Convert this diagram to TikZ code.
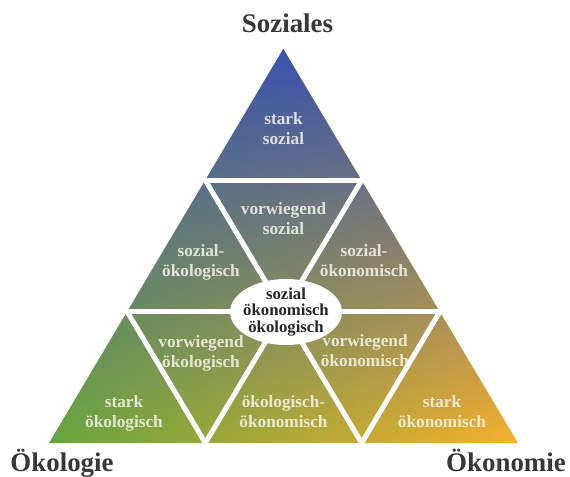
\documentclass[tikz,border=0pt]{standalone}
\usepackage{fontspec}
\setmainfont{Liberation Serif}
\usetikzlibrary{shapes.geometric,fadings}
\definecolor{cgreen}{RGB}{104,166,62}
\definecolor{corange}{RGB}{248,176,44}
\definecolor{cblue}{RGB}{58,82,174}
\definecolor{ctitle}{RGB}{55,55,55}
\definecolor{ctext}{RGB}{245,245,235}
\tikzfading[name=fadedown, top color=transparent!0, middle color=transparent!37, bottom color=transparent!100]
\tikzset{
  lbl/.style={text=ctext, text opacity=0.85, font=\bfseries\fontsize{17.3}{20}\selectfont, align=center, inner sep=0pt},
  ttl/.style={text=ctitle, font=\bfseries\fontsize{27}{30}\selectfont, inner sep=0pt, anchor=base},
  sepline/.style={draw=white, line width=5bp},
  ctrell/.style={ellipse, fill=white, minimum width=112bp, minimum height=66bp, inner sep=0pt},
  ctrtxt/.style={text=black!85, font=\bfseries\fontsize{16.8}{16.5}\selectfont, align=center, inner sep=0pt}
}
\begin{document}
\begin{tikzpicture}[x=1bp,y=-1bp]
\useasboundingbox (0,0) rectangle (570,477);
\fill[white] (0,0) rectangle (570,477);
% grid points
\coordinate (A) at (283.5,49);
\coordinate (B) at (49,443);
\coordinate (C) at (518,443);
\coordinate (P1) at (205.33,180.33);
\coordinate (Q1) at (361.67,180.33);
\coordinate (P2) at (127.17,311.67);
\coordinate (M) at (283.5,311.67);
\coordinate (Q2) at (439.83,311.67);
\coordinate (B1) at (205.33,443);
\coordinate (B2) at (361.67,443);
% coloured triangle
\shade[left color=cgreen, right color=corange] (A) -- (B) -- (C) -- cycle;
\fill[cblue, path fading=fadedown] (A) -- (B) -- (C) -- cycle;
% white separators
\draw[sepline] (P1) -- (Q1);
\draw[sepline] (P2) -- (Q2);
\draw[sepline] (B1) -- (Q1);
\draw[sepline] (B2) -- (P1);
\draw[sepline] (B1) -- (P2);
\draw[sepline] (B2) -- (Q2);
% labels
\node[lbl] (ss) at (283.5,128.3) {stark\\sozial};
\node[lbl] (vs) at (283.5,218.3) {vorwiegend\\sozial};
\node[lbl] (sok) at (201,262.1) {sozial-\\ökologisch};
\node[lbl] (son) at (364,260.3) {sozial-\\ökonomisch};
\node[lbl] (vok) at (201,353.1) {vorwiegend\\ökologisch};
\node[lbl] (von) at (365,350.3) {vorwiegend\\ökonomisch};
\node[lbl] (oo) at (283.5,411.3) {ökologisch-\\ökonomisch};
\node[lbl] (sk) at (124,413.1) {stark\\ökologisch};
\node[lbl] (sn) at (442,411.3) {stark\\ökonomisch};
% centre
\node[ctrell] (ctr) at (286,312) {};
\node[ctrtxt] (ctrt) at (ctr.center) {sozial\\ökonomisch\\ökologisch};
% titles
\node[ttl] (tsoz) at (287.5,33) {Soziales};
\node[ttl] (tokol) at (62,471) {Ökologie};
\node[ttl] (tokon) at (506,471) {Ökonomie};
\end{tikzpicture}
\end{document}
